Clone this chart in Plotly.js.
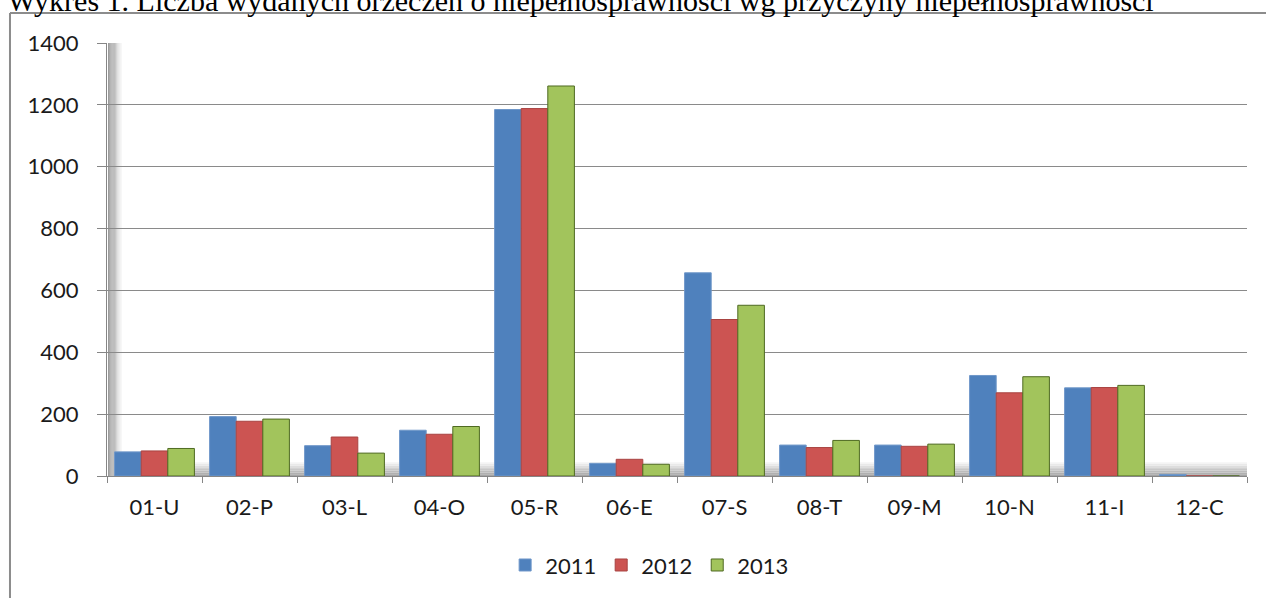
<!DOCTYPE html>
<html><head><meta charset="utf-8">
<script src="https://cdn.plot.ly/plotly-3.0.1.min.js"></script>
<style>html,body{margin:0;padding:0;background:#fff}#chart{width:1266px;height:598px}</style>
</head><body><div id="chart"></div>
<script>
const categories = ['01-U','02-P','03-L','04-O','05-R','06-E','07-S','08-T','09-M','10-N','11-I','12-C'];
const years = ['2011','2012','2013'];
const values2011 = [78, 192, 98, 148, 1185, 41, 657, 100, 100, 325, 285, 5];
const values2012 = [81, 177, 126, 135, 1188, 54, 506, 92, 96, 269, 286, 0];
const values2013 = [89, 184, 74, 160, 1261, 38, 552, 115, 103, 321, 293, 0];
const titleText = 'Wykres 1. Liczba wydanych orzeczeń o niepełnosprawności wg przyczyny niepełnosprawności';

const colors = ['#4f81bd', '#cc5452', '#a2c45c'];
const lines = ['#6f97c9', '#a84341', '#4f6a22'];
const series = [values2011, values2012, values2013];

const traces = series.map((v, i) => ({
  type: 'bar', name: years[i], x: categories, y: v,
  marker: {color: colors[i], line: {color: lines[i], width: 1}},
  hoverinfo: 'x+y+name'
}));

// decorative wall/floor shading (paper coordinates)
const shapes = [];
const wallSteps = 12;
for (let k = 0; k < wallSteps; k++) {
  const g = Math.round(140 + (115 * k / wallSteps));
  shapes.push({type:'rect', xref:'paper', yref:'paper', layer:'between',
    x0: 0.001 + k*0.001, x1: 0.001 + (k+1)*0.001, y0: 0, y1: 1,
    fillcolor:`rgb(${g},${g},${g})`, line:{width:0}});
}
const floorSteps = 8;
for (let k = 0; k < floorSteps; k++) {
  const g = Math.round(165 + (90 * k / floorSteps));
  shapes.push({type:'rect', xref:'paper', yref:'paper', layer:'between',
    x0: 0.013, x1: 1, y0: k*0.004, y1: (k+1)*0.004,
    fillcolor:`rgb(${g},${g},${g})`, line:{width:0}});
}
// chart frame (left and top border)
shapes.push({type:'line', xref:'paper', yref:'paper', x0:-0.0851, x1:-0.0851, y0:1.0693, y1:-0.3, line:{color:'#8c8c8c', width:2}});
shapes.push({type:'line', xref:'paper', yref:'paper', x0:-0.0851, x1:1.1, y0:1.0693, y1:1.0693, line:{color:'#8c8c8c', width:2}});

const layout = {
  width: 1266, height: 598,
  margin: {l:107, r:19, t:43, b:122},
  paper_bgcolor: '#ffffff', plot_bgcolor: '#ffffff',
  barmode: 'group', bargap: 0.16, bargroupgap: 0,
  font: {family: 'Lato, "Open Sans", sans-serif', size: 22, color: '#1a1a1a'},
  title: {text: titleText, x: 0.006, xref: 'container', xanchor: 'left',
          y: 1.0, yref: 'container', yanchor: 'middle',
          font: {family: '"Liberation Serif", "DejaVu Serif", serif', size: 30, color: '#000'}},
  xaxis: {type:'category', showline:true, linecolor:'#868686', linewidth:1,
          ticks:'outside', tickson:'boundaries', ticklen:6, tickcolor:'#868686',
          showgrid:false, zeroline:false, tickfont:{size:22}, ticklabelstandoff:12},
  yaxis: {range:[0,1400], dtick:200, tick0:0, showline:true, linecolor:'#868686', linewidth:1,
          ticks:'outside', ticklen:9, tickcolor:'#868686',
          showgrid:true, gridcolor:'#8a8a8a', gridwidth:1, zeroline:false,
          tickfont:{size:22}, ticklabelstandoff:14},
  showlegend: true,
  legend: {orientation:'h', x:0.476, xanchor:'center', y:-0.206, yanchor:'middle',
           font:{size:22}, itemwidth:30, traceorder:'normal', itemclick:false},
  shapes: shapes
};

Plotly.newPlot('chart', traces, layout, {displayModeBar:false, staticPlot:false});
</script></body></html>
